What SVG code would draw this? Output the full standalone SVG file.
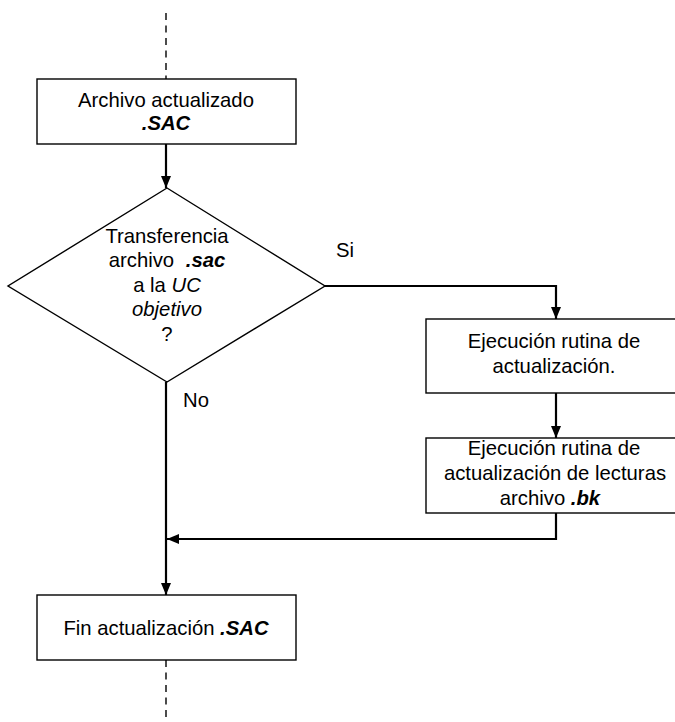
<svg xmlns="http://www.w3.org/2000/svg" width="675" height="722" viewBox="0 0 675 722">
<style>
.box{fill:#fff;stroke:#000;stroke-width:1.4}
.t{font-family:"Liberation Sans",Arial,sans-serif;font-size:20.3px;fill:#000;text-anchor:middle}
.lbl{font-family:"Liberation Sans",Arial,sans-serif;font-size:20.3px;fill:#000}
.bi{font-weight:bold;font-style:italic}
.i{font-style:italic}
.c{fill:none;stroke:#000;stroke-width:2.2}
.d{fill:none;stroke:#000;stroke-width:1.4;stroke-dasharray:7 5.5}
</style>
<defs>
<marker id="ah" viewBox="0 0 12 10" refX="12" refY="5" markerWidth="12" markerHeight="10" markerUnits="userSpaceOnUse" orient="auto">
<path d="M0,0 L12,5 L0,10 Z" fill="#000"/>
</marker>
</defs>
<g id="connectors">
<line class="d" x1="166" y1="13" x2="166" y2="79"/>
<line class="d" x1="166" y1="660" x2="166" y2="722"/>
<path class="c" d="M166,144 V188" marker-end="url(#ah)"/>
<path class="c" d="M325,286 H556 V319" marker-end="url(#ah)"/>
<path class="c" d="M556,393 V438" marker-end="url(#ah)"/>
<path class="c" d="M556,513 V539 H167" marker-end="url(#ah)"/>
<path class="c" d="M166,382 V595" marker-end="url(#ah)"/>
<text class="lbl" x="336" y="257">Si</text>
<text class="lbl" x="183" y="407">No</text>
</g>
<g id="n1">
<rect class="box" x="37" y="79" width="259" height="65"/>
<text class="t" x="166" y="107">Archivo actualizado</text>
<text class="t bi" x="166" y="130">.SAC</text>
</g>
<g id="n2">
<path class="box" d="M167,188 L325,286 L167,382 L8,286 Z"/>
<text class="t" x="167" y="243">Transferencia</text>
<text class="t" x="167" y="267">archivo <tspan class="bi" dx="6">.sac</tspan></text>
<text class="t" x="167" y="292">a la <tspan class="i">UC</tspan></text>
<text class="t i" x="167" y="316">objetivo</text>
<text class="t" x="167" y="341">?</text>
</g>
<g id="n3">
<rect class="box" x="426" y="319" width="260" height="74"/>
<text class="t" x="554" y="348">Ejecución rutina de</text>
<text class="t" x="554" y="373">actualización.</text>
</g>
<g id="n4">
<rect class="box" x="426" y="438" width="260" height="75"/>
<text class="t" x="554" y="455">Ejecución rutina de</text>
<text class="t" x="555" y="480">actualización de lecturas</text>
<text class="t" x="550" y="505">archivo <tspan class="bi">.bk</tspan></text>
</g>
<g id="n5">
<rect class="box" x="37" y="595" width="259" height="65"/>
<text class="t" x="166" y="635">Fin actualización <tspan class="bi">.SAC</tspan></text>
</g>
</svg>
